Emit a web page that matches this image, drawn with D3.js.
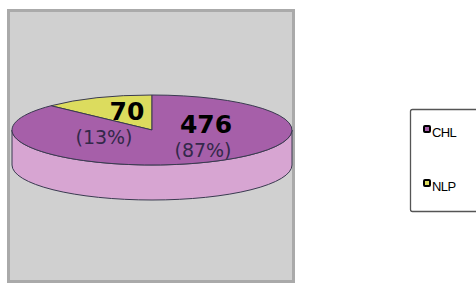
<!DOCTYPE html>
<html>
<head>
<meta charset="utf-8">
<script src="https://cdn.jsdelivr.net/npm/d3@7"></script>
<style>
  body { margin: 0; background: #fff; }
  svg { display: block; }
</style>
</head>
<body>
<div id="chart"></div>
<script>
// data
var categories = ["NLP", "CHL"];
var values = [70, 476];
var percentLabels = ["(13%)", "(87%)"];
var legendOrder = ["CHL", "NLP"];

var W = 476, H = 283;
var cx = 152, cy = 130, rx = 140, ry = 35, depth = 35;

var svg = d3.select("#chart").append("svg")
    .attr("width", W)
    .attr("height", H);

// gray plot panel
svg.append("rect")
    .attr("x", 8.5).attr("y", 10.5)
    .attr("width", 285).attr("height", 271)
    .attr("fill", "#d0d0d0")
    .attr("stroke", "#aaaaaa")
    .attr("stroke-width", 3);

var color = d3.scaleOrdinal()
    .domain(["CHL", "NLP"])
    .range(["#a65fa9", "#dcdc5e"]);
var sideColor = d3.scaleOrdinal()
    .domain(["CHL", "NLP"])
    .range(["#d7a5d2", "#b8b84a"]);

var total = d3.sum(values);
var a0 = -2 * Math.PI * values[0] / total;
var pie = d3.pie().sort(null)
    .startAngle(a0)
    .endAngle(a0 + 2 * Math.PI);
var arcs = pie(values);
arcs.forEach(function(d, i) { d.key = categories[i]; });

// point on the flattened ellipse, angle 0 at top, clockwise
function px(a) { return cx + rx * Math.sin(a); }
function py(a) { return cy - ry * Math.cos(a); }

function topPath(d) {
    var large = (d.endAngle - d.startAngle) > Math.PI ? 1 : 0;
    return "M" + cx + "," + cy +
        "L" + px(d.startAngle) + "," + py(d.startAngle) +
        "A" + rx + "," + ry + " 0 " + large + " 1 " + px(d.endAngle) + "," + py(d.endAngle) + "Z";
}

function sidePath(d) {
    // only the front half of the wall is visible
    var s = Math.max(d.startAngle, Math.PI / 2);
    var e = Math.min(d.endAngle, 3 * Math.PI / 2);
    if (e <= s) return null;
    var large = (e - s) > Math.PI ? 1 : 0;
    return "M" + px(s) + "," + py(s) +
        "A" + rx + "," + ry + " 0 " + large + " 1 " + px(e) + "," + py(e) +
        "L" + px(e) + "," + (py(e) + depth) +
        "A" + rx + "," + ry + " 0 " + large + " 0 " + px(s) + "," + (py(s) + depth) + "Z";
}

var g = svg.append("g");

g.selectAll("path.side")
    .data(arcs.filter(function(d) { return sidePath(d); }))
    .enter().append("path")
    .attr("class", "side")
    .attr("d", sidePath)
    .attr("fill", function(d) { return sideColor(d.key); })
    .attr("stroke", "#3a3a50")
    .attr("stroke-width", 1);

g.selectAll("path.top")
    .data(arcs)
    .enter().append("path")
    .attr("class", "top")
    .attr("d", topPath)
    .attr("fill", function(d) { return color(d.key); })
    .attr("stroke", "#3a3a50")
    .attr("stroke-width", 1);

// labels: value in bold, percent underneath
var labelPos = { NLP: [[127, 120], [104, 144]], CHL: [[206, 133], [203, 157]] };
arcs.forEach(function(d, i) {
    var p = labelPos[d.key];
    svg.append("text")
        .attr("x", p[0][0]).attr("y", p[0][1])
        .attr("text-anchor", "middle")
        .style("font-family", "DejaVu Sans, Verdana, sans-serif")
        .style("font-weight", "bold")
        .style("font-size", "25px")
        .attr("fill", "#000")
        .text(d.value);
    svg.append("text")
        .attr("x", p[1][0]).attr("y", p[1][1])
        .attr("text-anchor", "middle")
        .style("font-family", "DejaVu Sans, Verdana, sans-serif")
        .style("font-size", "19px")
        .attr("fill", "#33284a")
        .text(percentLabels[i]);
});

// legend
svg.append("rect")
    .attr("x", 410.5).attr("y", 109.5)
    .attr("width", 80).attr("height", 102)
    .attr("rx", 2)
    .attr("fill", "#fff")
    .attr("stroke", "#555")
    .attr("stroke-width", 1.3);

var leg = svg.selectAll("g.leg")
    .data(legendOrder)
    .enter().append("g")
    .attr("class", "leg")
    .attr("transform", function(d, i) { return "translate(423," + (125 + i * 54) + ")"; });

leg.append("rect")
    .attr("x", 1).attr("y", 1)
    .attr("width", 6).attr("height", 6)
    .attr("rx", 1)
    .attr("fill", function(d) { return color(d); })
    .attr("stroke", "#000")
    .attr("stroke-width", 2);

leg.append("text")
    .attr("x", 9).attr("y", 12)
    .style("font-family", "Liberation Sans, Arial, sans-serif")
    .style("font-size", "13px")
    .style("letter-spacing", "-0.6px")
    .attr("fill", "#000")
    .text(function(d) { return d; });
</script>
</body>
</html>
